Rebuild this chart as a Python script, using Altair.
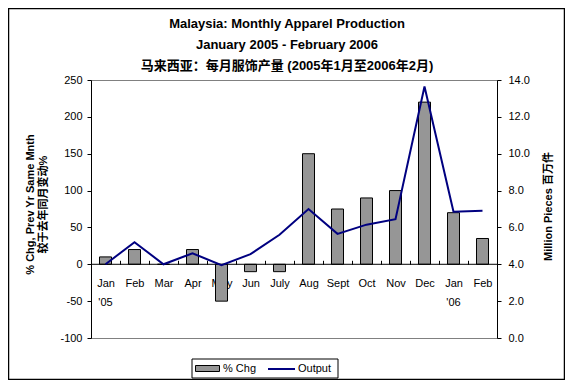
import altair as alt
import pandas as pd

months = ["Jan '05", "Feb '05", "Mar '05", "Apr '05", "May '05", "Jun '05", "July '05",
          "Aug '05", "Sept '05", "Oct '05", "Nov '05", "Dec '05", "Jan '06", "Feb '06"]
year_labels = ["'05", "", "", "", "", "", "", "", "", "", "", "", "'06", ""]
pct_chg = [10, 20, 0, 20, -50, -10, -10, 150, 75, 90, 100, 220, 70, 35]
output = [4.0, 5.2, 4.0, 4.6, 3.95, 4.55, 5.6, 7.0, 5.65, 6.15, 6.45, 13.65, 6.85, 6.9]
left_ticks = [-100, -50, 0, 50, 100, 150, 200, 250]
right_ticks = [0, 2, 4, 6, 8, 10, 12, 14]

df = pd.DataFrame({"month": months, "year": year_labels,
                   "pct": pct_chg, "output": output})

FONT = "Liberation Sans, Arial, Noto Sans CJK SC"
W, H = 406, 258

base = alt.Chart(df)

x_enc = alt.X(
    "month:N", sort=months,
    scale=alt.Scale(paddingInner=0, paddingOuter=0),
    axis=alt.Axis(
        title=None, orient="bottom", offset=-((H * 100 / 350) + 4),
        domain=False, tickBand="extent", tickSize=4, tickColor="black",
        labelAngle=0, labelPadding=13, labelFontSize=11,
        labelExpr="isValid(datum.value) ? split(datum.value, ' ')[0] : ''",
    ),
)

left_axis = alt.Axis(
    values=left_ticks, orient="left", grid=False, tickSize=4, labelPadding=5,
    labelFontSize=11, domainColor="black", tickColor="black",
    labelExpr="'' + datum.value",
    title=["% Chg, Prev Yr Same Mnth", "较于去年同月变动%"],
    titleFontSize=11, titleFontWeight="bold", titleAngle=270,
    titleX=-67, titleY=124, titleAlign="center", titleBaseline="top",
    titleLineHeight=13,
)
left_scale = alt.Scale(domain=[-100, 250], nice=False)

bars = base.mark_bar(size=12, stroke="black", strokeWidth=1).encode(
    x=x_enc,
    y=alt.Y("pct:Q", scale=left_scale, axis=left_axis),
    fill=alt.Fill(
        "series:N",
        scale=alt.Scale(domain=["% Chg"], range=["#969696"]),
        legend=alt.Legend(
            orient="none", legendX=104, legendY=276, title=None, padding=0,
            symbolType="M-1,-0.25H1V0.25H-1Z", symbolSize=576,
            symbolStrokeColor="black", symbolStrokeWidth=1, symbolOpacity=1,
            labelOffset=3, labelFontSize=11, labelFont=FONT,
        ),
    ),
).transform_calculate(series="'% Chg'")

year_text = base.mark_text(fontSize=11, baseline="top", dy=33, color="black").encode(
    x=alt.X("month:N", sort=months),
    y=alt.Y(datum=0, scale=left_scale, axis=left_axis),
    text="year:N",
)

zero_rule = alt.Chart(alt.Data(values=[{"v": 0}])).mark_rule(color="black", strokeWidth=1).encode(
    y=alt.Y("v:Q", scale=left_scale, axis=left_axis)
)

line = base.mark_line(strokeWidth=2).encode(
    x=alt.X("month:N", sort=months),
    y=alt.Y(
        "output:Q",
        scale=alt.Scale(domain=[0, 14], nice=False),
        axis=alt.Axis(
            values=right_ticks, orient="right", format=".1f", grid=False, tickSize=4,
            labelPadding=7, labelFontSize=11, domainColor="black", tickColor="black",
            title="Million Pieces 百万件", titleFontSize=11, titleFontWeight="bold",
            titleAngle=270, titleX=51, titleY=126, titleAlign="center",
            titleBaseline="middle",
        ),
    ),
    stroke=alt.Stroke(
        "series:N",
        scale=alt.Scale(domain=["Output"], range=["#000080"]),
        legend=alt.Legend(
            orient="none", legendX=176, legendY=274.5, title=None, padding=0,
            symbolType="stroke", symbolSize=729, symbolStrokeWidth=2,
            labelOffset=2, labelFontSize=11, labelFont=FONT,
        ),
    ),
).transform_calculate(series="'Output'")

box_data = alt.Data(values=[{"k": 1}])
legend_box = alt.Chart(box_data).mark_rect(fill=None, stroke="black", strokeWidth=1).encode(
    x=alt.value(101), x2=alt.value(247), y=alt.value(279), y2=alt.value(298)
)
outer_box = alt.Chart(box_data).mark_rect(fill=None, stroke="black", strokeWidth=1.5).encode(
    x=alt.value(-82.5), x2=alt.value(473.5), y=alt.value(-71.5), y2=alt.value(299.5)
)

chart = alt.layer(
    alt.layer(bars, zero_rule, year_text),
    line,
    legend_box,
    outer_box,
).resolve_scale(
    y="independent", fill="independent", stroke="independent"
).properties(
    width=W, height=H,
    autosize=alt.AutoSizeParams(type="none"),
    padding={"left": 83, "top": 72, "right": 68, "bottom": 42},
    title=alt.TitleParams(
        text=["Malaysia: Monthly Apparel Production", "January 2005 - February 2006",
              "马来西亚：每月服饰产量 (2005年1月至2006年2月)"],
        fontSize=13, fontWeight="bold", font=FONT, lineHeight=21,
        anchor="middle", frame="group", dx=-7, offset=-65, color="black",
    ),
).configure(
    font=FONT,
).configure_view(
    stroke="#808080", strokeWidth=1,
).configure_axis(
    labelColor="black", titleColor="black", labelFont=FONT, titleFont=FONT,
)

chart.save("out.html", embed_options={"renderer": "svg", "actions": False})
